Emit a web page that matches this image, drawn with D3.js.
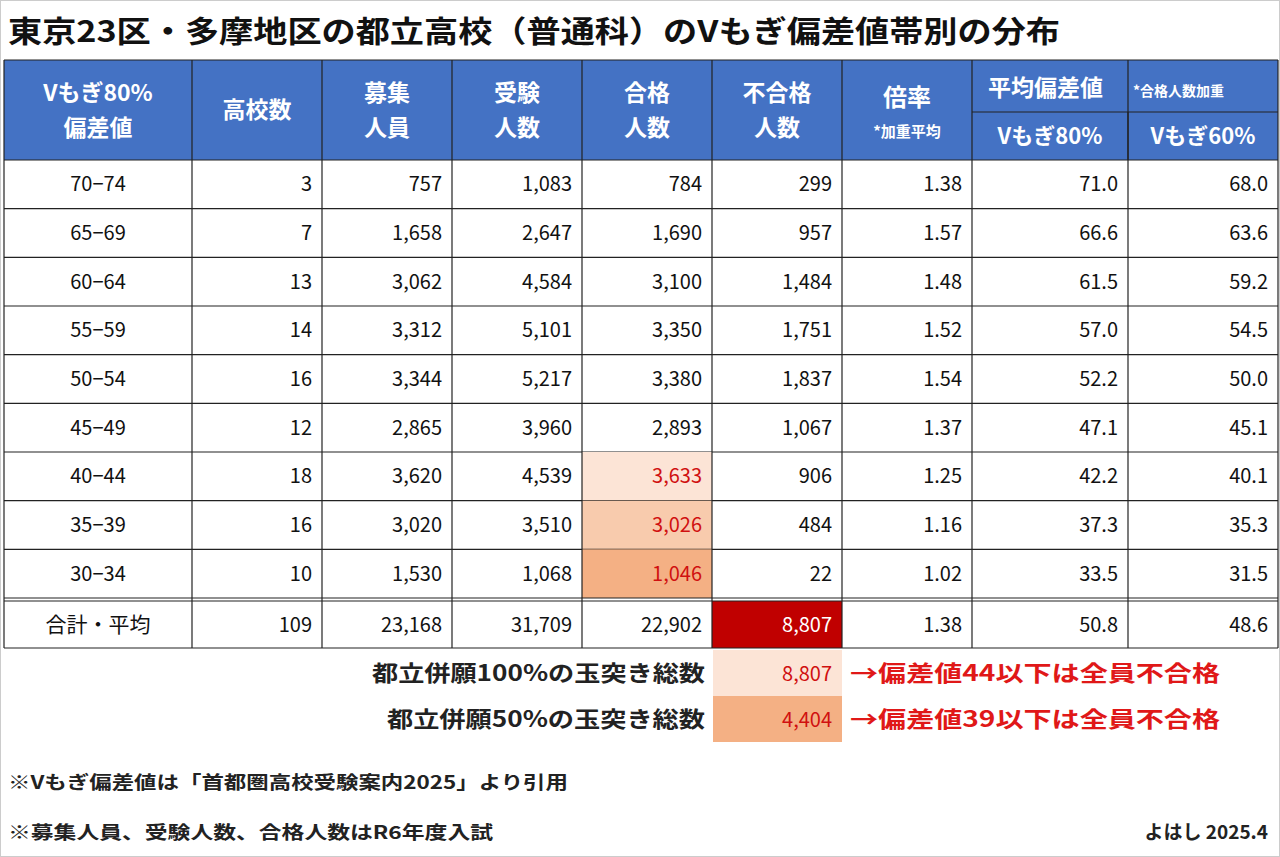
<!DOCTYPE html><html><head><meta charset="utf-8">
<script src="https://cdn.jsdelivr.net/npm/d3@7"></script>
<style>body{margin:0;background:#fff}svg{font-family:"Noto Sans CJK JP","Noto Sans",sans-serif}</style></head><body>
<svg id="c" width="1280" height="857"></svg>
<script>
const bands=["70-74","65-69","60-64","55-59","50-54","45-49","40-44","35-39","30-34"];
const schools=[3,7,13,14,16,12,18,16,10];
const quota=[757,1658,3062,3312,3344,2865,3620,3020,1530];
const applicants=[1083,2647,4584,5101,5217,3960,4539,3510,1068];
const passed=[784,1690,3100,3350,3380,2893,3633,3026,1046];
const failed=[299,957,1484,1751,1837,1067,906,484,22];
const ratio=[1.38,1.57,1.48,1.52,1.54,1.37,1.25,1.16,1.02];
const avg80=[71.0,66.6,61.5,57.0,52.2,47.1,42.2,37.3,33.5];
const avg60=[68.0,63.6,59.2,54.5,50.0,45.1,40.1,35.3,31.5];
const totals=["合計・平均",109,23168,31709,22902,8807,1.38,50.8,48.6];
const passHighlight=[null,null,null,null,null,null,"#fce4d6","#f8cbad","#f4b084"];
const extraLabels=["都立併願100%の玉突き総数","都立併願50%の玉突き総数"];
const extraValues=[8807,4404];
const extraNotes=["→偏差値44以下は全員不合格","→偏差値39以下は全員不合格"];
const notes=["※Vもぎ偏差値は「首都圏高校受験案内2025」より引用","※募集人員、受験人数、合格人数はR6年度入試"];

const svg=d3.select("#c");
const colEdges=[4,192,322,452,582,712,842,972,1128,1278];
const fmt=d3.format(",");
const y=d3.scaleBand().domain(d3.range(9)).range([160,598]);
const blue="#4472c4";
svg.append("rect").attr("x",0.5).attr("y",0.5).attr("width",1279).attr("height",856).attr("fill","none").attr("stroke","#ccc");
svg.append("text").attr("x",8).attr("y",42).attr("font-size",30).attr("font-weight","bold").attr("fill","#111")
 .attr("textLength",1052).attr("lengthAdjust","spacingAndGlyphs")
 .text("東京23区・多摩地区の都立高校（普通科）のVもぎ偏差値帯別の分布");
svg.append("rect").attr("x",colEdges[0]).attr("y",60).attr("width",colEdges[9]-colEdges[0]).attr("height",100).attr("fill",blue);
const hdr=[["Vもぎ80%","偏差値"],["高校数"],["募集","人員"],["受験","人数"],["合格","人数"],["不合格","人数"]];
const ht=(x,yy,s,size)=>svg.append("text").attr("x",x).attr("y",yy).attr("text-anchor","middle").attr("fill","#fff").attr("font-size",size).attr("font-weight","bold").text(s);
hdr.forEach((h,i)=>{const cx=(colEdges[i]+colEdges[i+1])/2;
 if(h.length==1)ht(cx,118,h[0],23);else{ht(cx,101,h[0],23);ht(cx,136,h[1],23);}});
ht(907,106,"倍率",24);ht(907,137,"*加重平均",15);
svg.append("text").attr("x",988).attr("y",96).attr("fill","#fff").attr("font-weight","bold").attr("font-size",23).text("平均偏差値");
svg.append("text").attr("x",1133).attr("y",96).attr("fill","#fff").attr("font-weight","bold").attr("font-size",14).text("*合格人数加重");
ht(1050,144,"Vもぎ80%",22);ht(1203,144,"Vもぎ60%",22);
const ln=(x1,y1,x2,y2,c="#222",w=1.2)=>svg.append("line").attr("x1",x1).attr("y1",y1).attr("x2",x2).attr("y2",y2).attr("stroke",c).attr("stroke-width",w);
ln(972,112,1278,112);ln(1128,112,1128,160);
const cols=[bands,schools,quota,applicants,passed,failed,ratio,avg80,avg60];
bands.forEach((b,r)=>{
 const yy=y(r);
 if(passHighlight[r])svg.append("rect").attr("x",582).attr("y",yy).attr("width",130).attr("height",y.bandwidth()).attr("fill",passHighlight[r]);
 cols.forEach((c,i)=>{
  let v=c[r],s;
  if(i==0)s=v.replace("-","−");else if(i==6)s=v.toFixed(2);else if(i>=7)s=v.toFixed(1);else s=fmt(v);
  const tx=svg.append("text").attr("y",yy+y.bandwidth()/2+7).attr("font-size",20).attr("fill",i==4&&passHighlight[r]?"#d01010":"#111").text(s);
  if(i==0)tx.attr("x",98).attr("text-anchor","middle");else tx.attr("x",colEdges[i+1]-10).attr("text-anchor","end");
 });
 ln(colEdges[0],yy+y.bandwidth(),colEdges[9],yy+y.bandwidth());
});
svg.append("rect").attr("x",712).attr("y",601).attr("width",130).attr("height",47).attr("fill","#c00000");
ln(colEdges[0],601,colEdges[9],601);
totals.forEach((v,i)=>{
 let s=i==0?v:i==6?v.toFixed(2):i>=7?v.toFixed(1):fmt(v);
 const tx=svg.append("text").attr("y",632).attr("font-size",20).attr("fill",i==5?"#fff":"#111").text(s);
 if(i==0)tx.attr("x",98).attr("text-anchor","middle").attr("font-size",21);else tx.attr("x",colEdges[i+1]-10).attr("text-anchor","end");
});
ln(colEdges[0],648,colEdges[9],648);
colEdges.forEach(x=>ln(x,60,x,648));
ln(colEdges[0],60,colEdges[9],60);ln(colEdges[0],160,colEdges[9],160);
const ey=d3.scaleBand().domain([0,1]).range([650,742]);
const ec=["#fce4d6","#f4b084"];
extraLabels.forEach((l,i)=>{
 const yy=ey(i),mid=yy+ey.bandwidth()/2+8;
 svg.append("rect").attr("x",713).attr("y",yy).attr("width",129).attr("height",ey.bandwidth()).attr("fill",ec[i]);
 svg.append("text").attr("x",705).attr("y",mid).attr("text-anchor","end").attr("font-size",22).attr("font-weight","bold").attr("fill","#222")
  .attr("textLength",i==0?333:318).attr("lengthAdjust","spacingAndGlyphs").text(l);
 svg.append("text").attr("x",832).attr("y",mid).attr("text-anchor","end").attr("font-size",20).attr("fill","#d01010").text(fmt(extraValues[i]));
 svg.append("text").attr("x",850).attr("y",mid).attr("font-size",22).attr("font-weight","bold").attr("fill","#e01818")
  .attr("textLength",370).attr("lengthAdjust","spacingAndGlyphs").text(extraNotes[i]);
});
notes.forEach((n,i)=>svg.append("text").attr("x",8).attr("y",789+i*50).attr("font-size",18).attr("font-weight","bold").attr("fill","#222")
 .attr("textLength",i==0?560:485).attr("lengthAdjust","spacingAndGlyphs").text(n));
svg.append("text").attr("x",1268).attr("y",839).attr("text-anchor","end").attr("font-size",19).attr("font-weight","bold").attr("fill","#222").text("よはし 2025.4");
</script></body></html>
